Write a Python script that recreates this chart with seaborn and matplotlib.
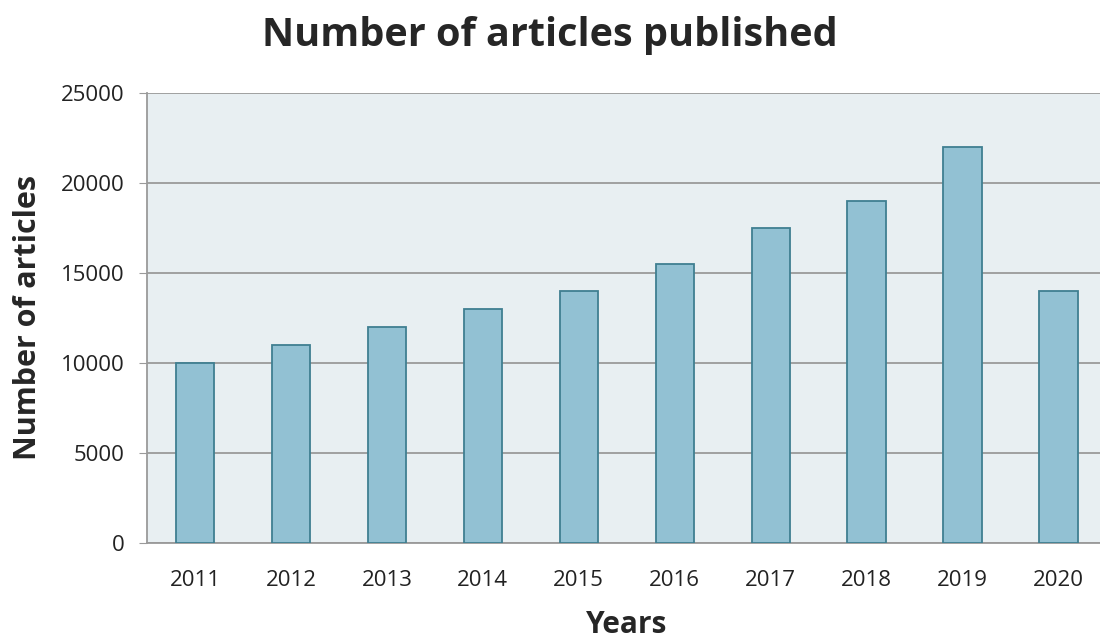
import matplotlib
matplotlib.use("Agg")
import matplotlib.pyplot as plt
import pandas as pd
import seaborn as sns

years = ["2011", "2012", "2013", "2014", "2015", "2016", "2017", "2018", "2019", "2020"]
articles = [10000, 11000, 12000, 13000, 14000, 15500, 17500, 19000, 22000, 14000]

df = pd.DataFrame({"Years": years, "Articles": articles})

sns.set_style("white")
plt.rcParams["font.family"] = ["Open Sans", "DejaVu Sans"]

fig, ax = plt.subplots(figsize=(11, 6.41), dpi=100)
# the original image is cropped on the right, so the axes run a bit past the edge
fig.subplots_adjust(left=0.1336, right=1.006, top=0.855, bottom=0.153)

sns.barplot(data=df, x="Years", y="Articles", color="#92c1d3", width=0.4,
            edgecolor="#3f7f91", linewidth=1.3, saturation=1, ax=ax, zorder=3)

ax.set_facecolor("#e8eff2")
ax.set_xlim(-0.5, 9.5)
ax.set_ylim(0, 25000)
ax.set_yticks(range(0, 25001, 5000))
ax.yaxis.grid(True, color="#9a9a9a", linewidth=1.3, zorder=0)
ax.set_axisbelow(True)
for s in ["top", "right"]:
    ax.spines[s].set_visible(False)
ax.spines["left"].set_color("#9a9a9a")
ax.spines["bottom"].set_color("#9a9a9a")
ax.spines["left"].set_linewidth(1.3)
ax.spines["bottom"].set_linewidth(1.3)
ax.tick_params(axis="y", which="both", left=True, length=6, color="#9a9a9a",
               labelsize=16, pad=10, labelcolor="#222222")
ax.tick_params(axis="x", bottom=False, labelsize=16, pad=16, labelcolor="#222222")

ax.set_xlabel("Years", fontsize=21.5, fontweight="bold", labelpad=14)
ax.set_ylabel("Number of articles", fontsize=22, fontweight="bold", labelpad=13)
fig.suptitle("Number of articles published", fontsize=28.5, fontweight="bold",
             x=0.5, y=0.975)

fig.savefig("out.png", dpi=100)
